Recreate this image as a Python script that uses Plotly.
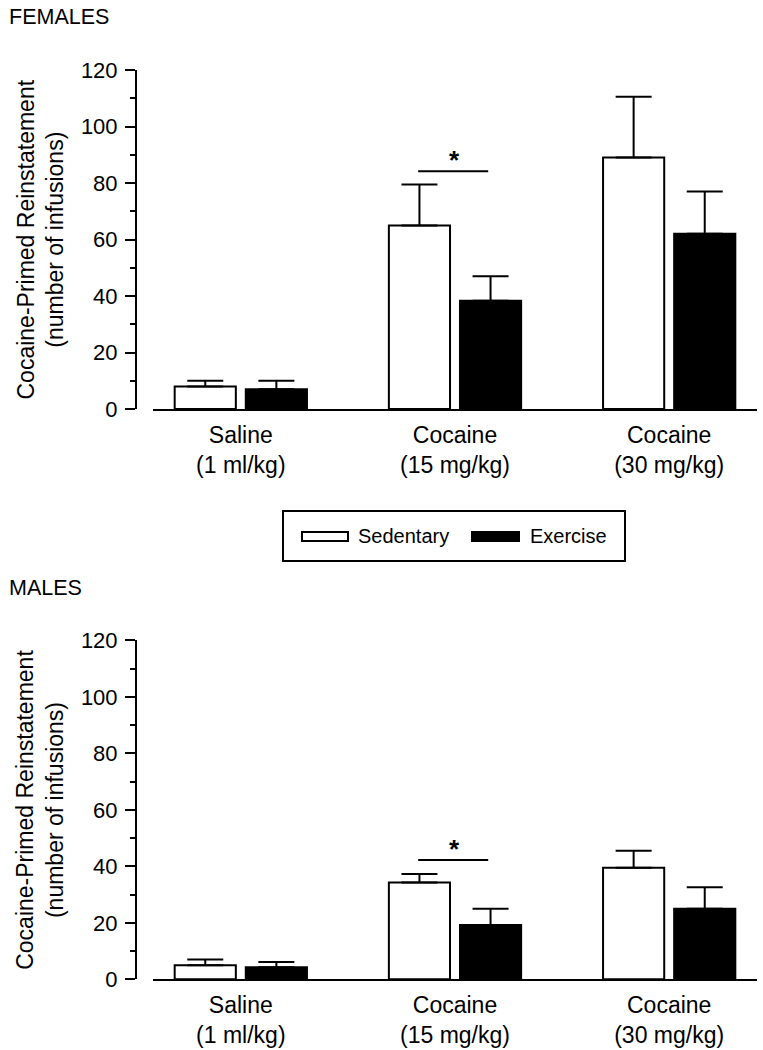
import plotly.graph_objects as go

# ---------------- data ----------------
categories = ["Saline<br>(1 ml/kg)", "Cocaine<br>(15 mg/kg)", "Cocaine<br>(30 mg/kg)"]
series_names = ["Sedentary", "Exercise"]

fem_sedentary = [8, 65, 89]
fem_sedentary_sem = [2, 14.5, 21.5]
fem_exercise = [7, 38.3, 62]
fem_exercise_sem = [3, 8.7, 15]

male_sedentary = [5, 34.3, 39.5]
male_sedentary_sem = [2, 3, 6]
male_exercise = [4.3, 19.2, 25]
male_exercise_sem = [1.8, 5.8, 7.6]

panel_titles = ["FEMALES", "MALES"]
y_title = "Cocaine-Primed Reinstatement<br>(number of infusions)"
sig_category = [1, 1]          # index of category with significance
sig_level = [84.2, 42.2]       # y value of significance line

# ---------------- layout helpers ----------------
W, H = 763, 1050
FONT = "Liberation Sans, Arial, Helvetica, sans-serif"


def px_x(x):
    return x / W


def px_y(y):
    return 1 - y / H


fig = go.Figure()

panels = [
    (fem_sedentary, fem_sedentary_sem, fem_exercise, fem_exercise_sem, "x", "y"),
    (male_sedentary, male_sedentary_sem, male_exercise, male_exercise_sem, "x2", "y2"),
]

for sed, sed_e, ex, ex_e, xa, ya in panels:
    fig.add_trace(go.Bar(
        x=categories, y=sed, name=series_names[0], xaxis=xa, yaxis=ya,
        marker=dict(color="white", line=dict(color="black", width=2)),
        error_y=dict(type="data", array=sed_e, arrayminus=[0] * len(sed_e), symmetric=False,
                     color="black", thickness=2, width=18),
        showlegend=False,
    ))
    fig.add_trace(go.Bar(
        x=categories, y=ex, name=series_names[1], xaxis=xa, yaxis=ya,
        marker=dict(color="black", line=dict(color="black", width=2)),
        error_y=dict(type="data", array=ex_e, arrayminus=[0] * len(ex_e), symmetric=False,
                     color="black", thickness=2, width=18),
        showlegend=False,
    ))

x_dom = [px_x(153), px_x(757)]
y_pos = px_x(136)
top_dom = [px_y(409), px_y(70)]
bot_dom = [px_y(979.3), px_y(640.3)]

common_x = dict(
    domain=x_dom, range=[-0.41, 2.41], showline=True, linewidth=2, linecolor="black",
    ticks="", showgrid=False, zeroline=False, automargin=False,
    tickfont=dict(family=FONT, size=23, color="black"),
    ticklabelstandoff=4,
)
common_y = dict(
    range=[0, 120], tickvals=[0, 20, 40, 60, 80, 100, 120], showline=True, linewidth=2,
    linecolor="black", ticks="outside", ticklen=10, tickwidth=2, tickcolor="black",
    minor=dict(dtick=10, ticks="outside", ticklen=5, tickwidth=2, tickcolor="black"),
    showgrid=False, zeroline=False, anchor="free", position=y_pos, automargin=False,
    tickfont=dict(family=FONT, size=22, color="black"), ticklabelstandoff=3,
)

fig.update_layout(
    width=W, height=H, margin=dict(l=0, r=0, t=0, b=0, autoexpand=False),
    paper_bgcolor="white", plot_bgcolor="white",
    barmode="group", bargap=0.336, bargroupgap=0.14,
    showlegend=False,
    font=dict(family=FONT, size=22, color="black"),
    xaxis=dict(**common_x, anchor="y"),
    yaxis=dict(**common_y, domain=top_dom),
    xaxis2=dict(**common_x, anchor="y2"),
    yaxis2=dict(**common_y, domain=bot_dom),
)

shapes = []
annotations = []

# significance bars and stars
for (xa, ya), cat, lvl in zip([("x", "y"), ("x2", "y2")], sig_category, sig_level):
    shapes.append(dict(type="line", xref=xa, yref=ya, x0=cat - 0.172, x1=cat + 0.155,
                       y0=lvl, y1=lvl, line=dict(color="black", width=2)))
    annotations.append(dict(xref=xa, yref=ya, x=cat - 0.003, y=lvl, text="<b>*</b>", showarrow=False,
                            yanchor="bottom", yshift=-6, font=dict(family=FONT, size=26, color="black")))

# panel titles and y-axis titles
for title, ty, dom in zip(panel_titles, [17, 588], [top_dom, bot_dom]):
    annotations.append(dict(xref="paper", yref="paper", x=px_x(7), y=px_y(ty), text=title,
                            showarrow=False, xanchor="left", yanchor="middle",
                            font=dict(family=FONT, size=21.5, color="black")))
    annotations.append(dict(xref="paper", yref="paper", x=px_x(40), y=(dom[0] + dom[1]) / 2,
                            text=y_title, textangle=-90, showarrow=False,
                            xanchor="center", yanchor="middle",
                            font=dict(family=FONT, size=23, color="black")))

# custom legend
shapes.append(dict(type="rect", xref="paper", yref="paper", x0=px_x(283), x1=px_x(625),
                   y0=px_y(561), y1=px_y(511), line=dict(color="black", width=2),
                   fillcolor="white", layer="below"))
shapes.append(dict(type="rect", xref="paper", yref="paper", x0=px_x(302), x1=px_x(348),
                   y0=px_y(541), y1=px_y(532), line=dict(color="black", width=2),
                   fillcolor="white"))
shapes.append(dict(type="rect", xref="paper", yref="paper", x0=px_x(472), x1=px_x(519),
                   y0=px_y(541), y1=px_y(532), line=dict(color="black", width=2),
                   fillcolor="black"))
annotations.append(dict(xref="paper", yref="paper", x=px_x(356), y=px_y(536), text=series_names[0],
                        showarrow=False, xanchor="left", yanchor="middle",
                        font=dict(family=FONT, size=20, color="black")))
annotations.append(dict(xref="paper", yref="paper", x=px_x(528), y=px_y(536), text=series_names[1],
                        showarrow=False, xanchor="left", yanchor="middle",
                        font=dict(family=FONT, size=20, color="black")))

fig.update_layout(shapes=shapes, annotations=annotations)

fig.write_html("out.html", config={"displayModeBar": False},
               post_script="document.body.style.margin='0';document.body.style.overflow='hidden';")
